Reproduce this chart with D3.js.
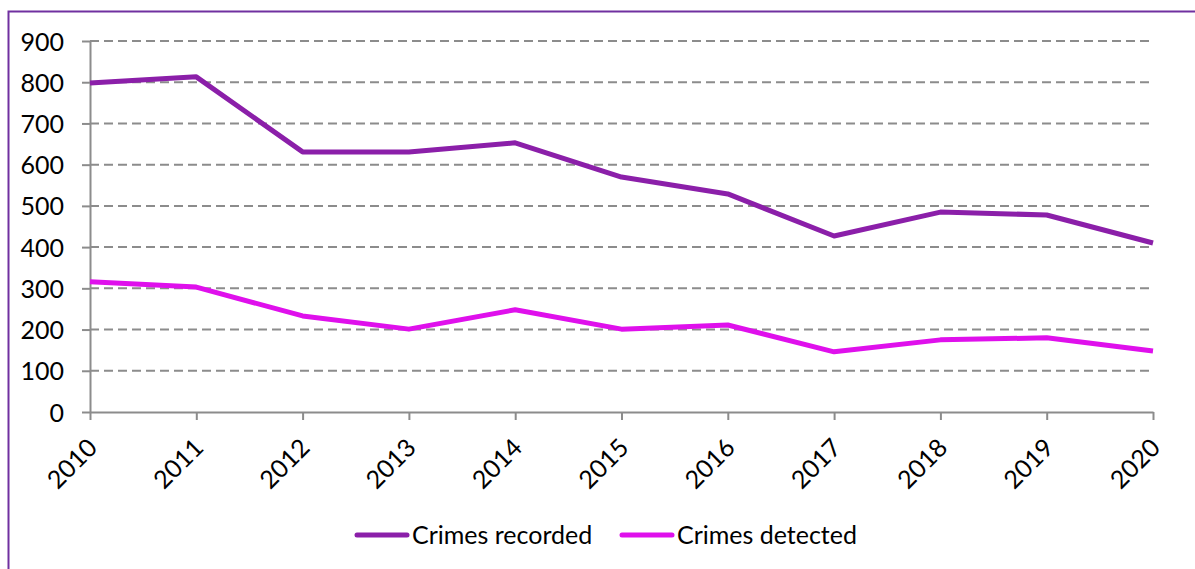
<!DOCTYPE html>
<meta charset="utf-8">
<style>
body { margin: 0; background: #fff; }
.axis text { font-family: Lato, "Open Sans", sans-serif; font-size: 25px; fill: #000; }
.axis path, .axis line { stroke: #8c8c8c; stroke-width: 2; }
.grid line { stroke: #8c8c8c; stroke-width: 2; stroke-dasharray: 9 5; }
.legend text { font-family: Lato, "Open Sans", sans-serif; font-size: 25px; fill: #000; }
</style>
<body>
<svg width="1195" height="569"></svg>
<script src="https://cdn.jsdelivr.net/npm/d3@7"></script>
<script>

// data
var years = [2010, 2011, 2012, 2013, 2014, 2015, 2016, 2017, 2018, 2019, 2020];
var recorded = [798, 813, 631, 631, 653, 570, 529, 427, 485, 478, 410];
var detected = [316, 303, 233, 201, 248, 201, 211, 146, 175, 180, 148];
var yTicks = [0, 100, 200, 300, 400, 500, 600, 700, 800, 900];

var svg = d3.select("svg"),
    margin = {top: 41, left: 90},
    width = 1153 - margin.left,
    height = 412 - margin.top;

// chart frame
svg.append("rect")
    .attr("x", 8.5).attr("y", 11.5)
    .attr("width", 1195).attr("height", 600)
    .attr("fill", "none")
    .attr("stroke", "#7030a0")
    .attr("stroke-width", 2);

var g = svg.append("g").attr("transform", "translate(" + margin.left + "," + margin.top + ")");

var x = d3.scalePoint().domain(years).range([0, width]),
    y = d3.scaleLinear().domain([0, 900]).range([height, 0]);

var series = [
  {name: "Crimes recorded", values: recorded, color: "#8b1fa9"},
  {name: "Crimes detected", values: detected, color: "#df10ec"}
];

// dashed gridlines
g.append("g")
    .attr("class", "grid")
    .selectAll("line")
    .data(yTicks.slice(1))
    .enter().append("line")
    .attr("x1", 0).attr("x2", width)
    .attr("y1", function(d) { return y(d); })
    .attr("y2", function(d) { return y(d); });

// y axis
var yAxis = g.append("g")
    .attr("class", "axis axis--y")
    .call(d3.axisLeft(y).tickValues(yTicks).tickSize(8).tickSizeOuter(0).tickPadding(18));
yAxis.selectAll("text").attr("dy", "0.36em");

// x axis
var xAxis = g.append("g")
    .attr("class", "axis axis--x")
    .attr("transform", "translate(0," + height + ")")
    .call(d3.axisBottom(x).tickSize(8).tickSizeOuter(0));
xAxis.selectAll("text")
    .attr("text-anchor", "end")
    .attr("dy", "0.35em")
    .attr("transform", "translate(2,31) rotate(-45)")
    .attr("x", 0).attr("y", 0);

// lines
var line = d3.line()
    .x(function(d, i) { return x(years[i]); })
    .y(function(d) { return y(d); });

g.selectAll(".series")
    .data(series)
    .enter().append("path")
    .attr("class", "series")
    .attr("d", function(d) { return line(d.values); })
    .attr("fill", "none")
    .attr("stroke", function(d) { return d.color; })
    .attr("stroke-width", 5)
    .attr("stroke-linejoin", "round");

// legend
var legendX = [355, 620];
var legend = svg.append("g").attr("class", "legend")
    .selectAll("g")
    .data(series)
    .enter().append("g")
    .attr("transform", function(d, i) { return "translate(" + legendX[i] + ",535)"; });

legend.append("line")
    .attr("x1", 2).attr("x2", 52)
    .attr("stroke", function(d) { return d.color; })
    .attr("stroke-width", 5)
    .attr("stroke-linecap", "round");

legend.append("text")
    .attr("x", 57)
    .attr("dy", "0.35em")
    .text(function(d) { return d.name; });

</script>
</body>
